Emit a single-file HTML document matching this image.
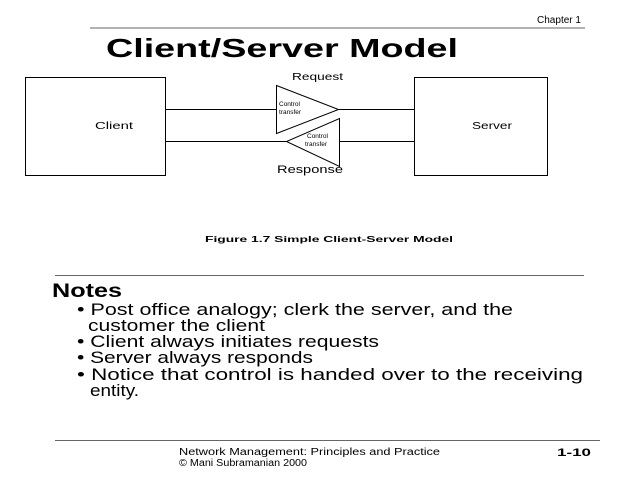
<!DOCTYPE html>
<html><head><style>
html,body{margin:0;padding:0;background:#fff;width:640px;height:480px;overflow:hidden}
svg{display:block}
text{font-family:"Liberation Sans",sans-serif;fill:#000}
</style></head><body>
<svg width="640" height="480" viewBox="0 0 640 480">
<text x="537" y="23" font-size="10" textLength="44" lengthAdjust="spacingAndGlyphs">Chapter 1</text>
<line x1="90" y1="28" x2="585" y2="28" stroke="#666" stroke-width="1"/>
<text x="106" y="57" font-size="26" font-weight="bold" textLength="352" lengthAdjust="spacingAndGlyphs">Client/Server Model</text>
<g stroke="#000" stroke-width="1" fill="none">
<rect x="25.5" y="77.5" width="140" height="98"/>
<rect x="414.5" y="77.5" width="133" height="98"/>
<line x1="165" y1="109.5" x2="276" y2="109.5"/>
<line x1="338" y1="109.5" x2="414" y2="109.5"/>
<line x1="165" y1="141.5" x2="286" y2="141.5"/>
<line x1="339" y1="141.5" x2="414" y2="141.5"/>
<polygon points="276.5,85.5 276.5,133.5 338.5,109.5"/>
<polygon points="339.5,118.5 339.5,166.5 286.5,141.5"/>
</g>
<text x="292" y="80" font-size="10" textLength="51" lengthAdjust="spacingAndGlyphs">Request</text>
<text x="277" y="173" font-size="11" textLength="66" lengthAdjust="spacingAndGlyphs">Response</text>
<text x="95" y="129" font-size="10" textLength="38" lengthAdjust="spacingAndGlyphs">Client</text>
<text x="472" y="129" font-size="10" textLength="40" lengthAdjust="spacingAndGlyphs">Server</text>
<text x="279" y="106" font-size="6.5">Control</text>
<text x="279" y="114" font-size="6.5">transfer</text>
<text x="307" y="138" font-size="6.5">Control</text>
<text x="305" y="146" font-size="6.5">transfer</text>
<text x="205" y="242" font-size="8" font-weight="bold" textLength="248" lengthAdjust="spacingAndGlyphs">Figure 1.7 Simple Client-Server Model</text>
<line x1="55" y1="275.5" x2="584" y2="275.5" stroke="#666" stroke-width="1"/>
<text x="52" y="297" font-size="19" font-weight="bold" textLength="70" lengthAdjust="spacingAndGlyphs">Notes</text>
<g font-size="16.5">
<text x="77" y="315" textLength="436" lengthAdjust="spacingAndGlyphs">• Post office analogy; clerk the server, and the</text>
<text x="88" y="331" textLength="177" lengthAdjust="spacingAndGlyphs">customer the client</text>
<text x="77" y="347" textLength="302" lengthAdjust="spacingAndGlyphs">• Client always initiates requests</text>
<text x="77" y="363" textLength="236" lengthAdjust="spacingAndGlyphs">• Server always responds</text>
<text x="77" y="380" textLength="506" lengthAdjust="spacingAndGlyphs">• Notice that control is handed over to the receiving</text>
<text x="90" y="396" textLength="49" lengthAdjust="spacingAndGlyphs">entity.</text>
</g>
<line x1="55" y1="440.5" x2="600" y2="440.5" stroke="#666" stroke-width="1"/>
<text x="179" y="455" font-size="10" textLength="261" lengthAdjust="spacingAndGlyphs">Network Management: Principles and Practice</text>
<text x="179" y="466" font-size="10" textLength="128" lengthAdjust="spacingAndGlyphs">©  Mani Subramanian 2000</text>
<text x="557" y="456" font-size="11" font-weight="bold" textLength="34" lengthAdjust="spacingAndGlyphs">1-10</text>
</svg>
</body></html>
